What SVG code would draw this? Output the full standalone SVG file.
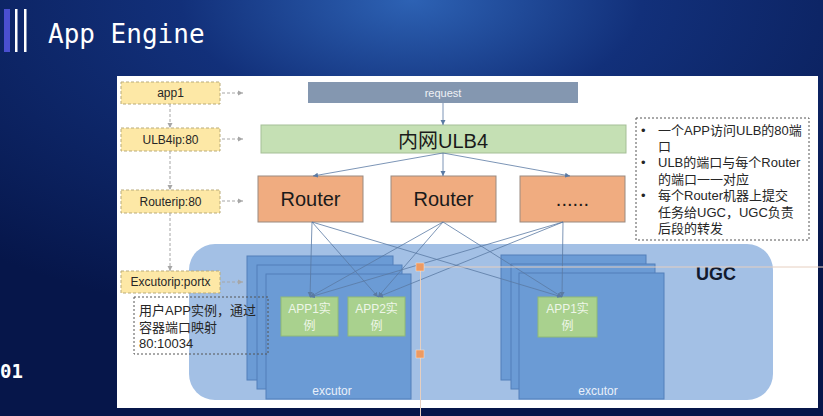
<svg xmlns="http://www.w3.org/2000/svg" width="823" height="416" viewBox="0 0 823 416">
<defs>
<radialGradient id="bg" cx="0.5" cy="0" r="0.8">
<stop offset="0" stop-color="#2d62b4"/>
<stop offset="0.35" stop-color="#12307a"/>
<stop offset="1" stop-color="#06164a"/>
</radialGradient>
<marker id="ah" markerWidth="6" markerHeight="6" refX="5" refY="3" orient="auto" markerUnits="userSpaceOnUse">
<path d="M0,0.5 L5,3 L0,5.5 Z" fill="#5a7aa3"/>
</marker>
<marker id="ahg" markerWidth="6" markerHeight="6" refX="5" refY="3" orient="auto" markerUnits="userSpaceOnUse">
<path d="M0,0.5 L5,3 L0,5.5 Z" fill="#a6a6a6"/>
</marker>
<style>
.ybox{fill:#fde8a6;stroke:#b9ab7a;stroke-width:1;stroke-dasharray:3 2}
.ytxt{font-family:"Liberation Sans","Noto Sans",sans-serif;font-size:12px;fill:#262626;text-anchor:middle}
.router{fill:#f0ac80;stroke:#998a80;stroke-width:1}
.rtxt{font-family:"Liberation Sans","Noto Sans",sans-serif;font-size:20px;fill:#1a1a1a;text-anchor:middle}
.exc{fill:#6b9bd5;stroke:#527fba;stroke-width:1}
.etxt{font-family:"Liberation Sans","Noto Sans",sans-serif;font-size:12px;fill:#e9f0fa;text-anchor:middle}
.app{fill:#a9d18e;stroke:#90ba77;stroke-width:1}
.atxt{font-family:"Liberation Sans","Noto Sans CJK SC",sans-serif;font-size:12px;fill:#eef6e8;text-anchor:middle}
.note{fill:none;stroke:#555;stroke-width:1;stroke-dasharray:2 2}
.ntxt{font-family:"Liberation Sans","Noto Sans CJK SC",sans-serif;font-size:13px;fill:#262626}
.conn{stroke:#5a7aa3;stroke-width:0.8;fill:none;marker-end:url(#ah)}
.dconn{stroke:#a6a6a6;stroke-width:1;fill:none;stroke-dasharray:3 2;marker-end:url(#ahg)}
</style>
</defs>
<rect x="0" y="0" width="823" height="416" fill="url(#bg)"/>
<g id="title">
<rect x="4" y="9" width="6" height="43" fill="#4a4fd0"/>
<rect x="15" y="9" width="2.5" height="43" fill="#ffffff"/>
<rect x="24" y="9" width="2.5" height="43" fill="#ffffff"/>
<text x="48" y="43" font-family="DejaVu Sans Mono, Liberation Mono, monospace" font-size="26" fill="#ffffff">App Engine</text>
<text x="0" y="378" font-family="DejaVu Sans Mono, Liberation Mono, monospace" font-size="19" font-weight="bold" fill="#ffffff">01</text>
</g>
<rect x="117" y="76" width="701" height="332" fill="#ffffff"/>

<g id="ugc">
<rect x="189" y="244" width="584" height="156" rx="26" ry="26" fill="#a3c0e5"/>
<text x="716" y="280" font-family="Liberation Sans, Noto Sans, sans-serif" font-size="18" font-weight="bold" fill="#111a2e" text-anchor="middle">UGC</text>
</g>

<g id="excutor-left">
<rect class="exc" x="247" y="256" width="146" height="124"/>
<rect class="exc" x="257" y="265" width="145" height="124"/>
<rect class="exc" x="266" y="274" width="145" height="125"/>
<text class="etxt" x="332" y="395">excutor</text>
</g>
<g id="excutor-right">
<rect class="exc" x="501" y="255" width="145" height="125"/>
<rect class="exc" x="511" y="264" width="144" height="125"/>
<rect class="exc" x="519" y="273" width="145" height="126"/>
<text class="etxt" x="598" y="395">excutor</text>
</g>

<g id="app1-left">
<rect class="app" x="281" y="297" width="57" height="39"/>
<text class="atxt" x="309.5" y="313">APP1实</text>
<text class="atxt" x="309.5" y="330">例</text>
</g>
<g id="app2-left">
<rect class="app" x="348" y="297" width="57" height="39"/>
<text class="atxt" x="376.5" y="313">APP2实</text>
<text class="atxt" x="376.5" y="330">例</text>
</g>
<g id="app1-right">
<rect class="app" x="538" y="297" width="59" height="40"/>
<text class="atxt" x="567.5" y="313">APP1实</text>
<text class="atxt" x="567.5" y="330">例</text>
</g>

<g id="request">
<rect x="308" y="82" width="270" height="21" fill="#8497b0"/>
<text x="443" y="97" font-family="Liberation Sans, Noto Sans, sans-serif" font-size="11" fill="#eef1f5" text-anchor="middle">request</text>
</g>
<g id="ulb4">
<rect x="261" y="125" width="365" height="28" fill="#c5e0b4" stroke="#a5bf97" stroke-width="1"/>
<text x="443" y="148" font-family="Liberation Sans, Noto Sans CJK SC, sans-serif" font-size="20" fill="#1a1a1a" text-anchor="middle">内网ULB4</text>
</g>
<g id="router1">
<rect class="router" x="258" y="176" width="105" height="46"/>
<text class="rtxt" x="310.5" y="206">Router</text>
</g>
<g id="router2">
<rect class="router" x="391" y="176" width="105" height="46"/>
<text class="rtxt" x="443.5" y="206">Router</text>
</g>
<g id="router3">
<rect class="router" x="520" y="176" width="105" height="46"/>
<text class="rtxt" x="572.5" y="206" font-size="16">......</text>
</g>

<g id="lbl-app1">
<rect class="ybox" x="121" y="82" width="99" height="22"/>
<text class="ytxt" x="170.5" y="97">app1</text>
</g>
<g id="lbl-ulb4ip">
<rect class="ybox" x="121" y="128" width="99" height="23"/>
<text class="ytxt" x="170.5" y="144">ULB4ip:80</text>
</g>
<g id="lbl-routerip">
<rect class="ybox" x="121" y="190" width="99" height="23"/>
<text class="ytxt" x="170.5" y="206">Routerip:80</text>
</g>
<g id="lbl-excutorip">
<rect class="ybox" x="121" y="271" width="99" height="22"/>
<text class="ytxt" x="170.5" y="286">Excutorip:portx</text>
</g>

<g id="note-left">
<rect class="note" x="134" y="297" width="134" height="57" stroke="#2a3550"/>
<text class="ntxt" x="139" y="315">用户APP实例，通过</text>
<text class="ntxt" x="139" y="332">容器端口映射</text>
<text class="ntxt" x="139" y="348">80:10034</text>
</g>

<g id="note-right">
<rect class="note" x="636" y="118" width="173" height="122"/>
<text class="ntxt" x="641" y="135">•</text>
<text class="ntxt" x="658" y="135">一个APP访问ULB的80端</text>
<text class="ntxt" x="658" y="151">口</text>
<text class="ntxt" x="641" y="167">•</text>
<text class="ntxt" x="658" y="167">ULB的端口与每个Router</text>
<text class="ntxt" x="658" y="184">的端口一一对应</text>
<text class="ntxt" x="641" y="200">•</text>
<text class="ntxt" x="658" y="200">每个Router机器上提交</text>
<text class="ntxt" x="658" y="217">任务给UGC，UGC负责</text>
<text class="ntxt" x="658" y="233">后段的转发</text>
</g>

<g id="connectors">
<line class="conn" x1="443" y1="103" x2="443" y2="125"/>
<line class="conn" x1="443" y1="153" x2="313" y2="176"/>
<line class="conn" x1="443" y1="153" x2="443" y2="176"/>
<line class="conn" x1="443" y1="153" x2="570" y2="176"/>
<line class="conn" x1="312" y1="222" x2="310" y2="297"/>
<line class="conn" x1="312" y1="222" x2="378" y2="297"/>
<line class="conn" x1="312" y1="222" x2="562" y2="297"/>
<line class="conn" x1="443" y1="222" x2="310" y2="297"/>
<line class="conn" x1="443" y1="222" x2="378" y2="297"/>
<line class="conn" x1="443" y1="222" x2="562" y2="297"/>
<line class="conn" x1="563" y1="222" x2="310" y2="297"/>
<line class="conn" x1="563" y1="222" x2="378" y2="297"/>
<line class="conn" x1="563" y1="222" x2="562" y2="297"/>
<line class="dconn" x1="170" y1="104" x2="170" y2="128"/>
<line class="dconn" x1="170" y1="151" x2="170" y2="190"/>
<line class="dconn" x1="170" y1="213" x2="170" y2="271"/>
<line class="dconn" x1="222" y1="93" x2="243" y2="93"/>
<line class="dconn" x1="222" y1="139" x2="243" y2="139"/>
<line class="dconn" x1="222" y1="201" x2="243" y2="201"/>
<line class="dconn" x1="222" y1="282" x2="243" y2="282"/>
</g>

<g id="handles">
<line x1="424" y1="267" x2="823" y2="267" stroke="#e6cfc0" stroke-width="1"/>
<line x1="420.5" y1="271" x2="420.5" y2="416" stroke="#e6cfc0" stroke-width="1"/>
<rect x="416" y="263" width="8" height="8" fill="#ed9a62" stroke="#fbe2d0" stroke-width="0.5"/>
<rect x="416" y="350" width="8" height="8" fill="#ed9a62" stroke="#fbe2d0" stroke-width="0.5"/>
</g>
</svg>
